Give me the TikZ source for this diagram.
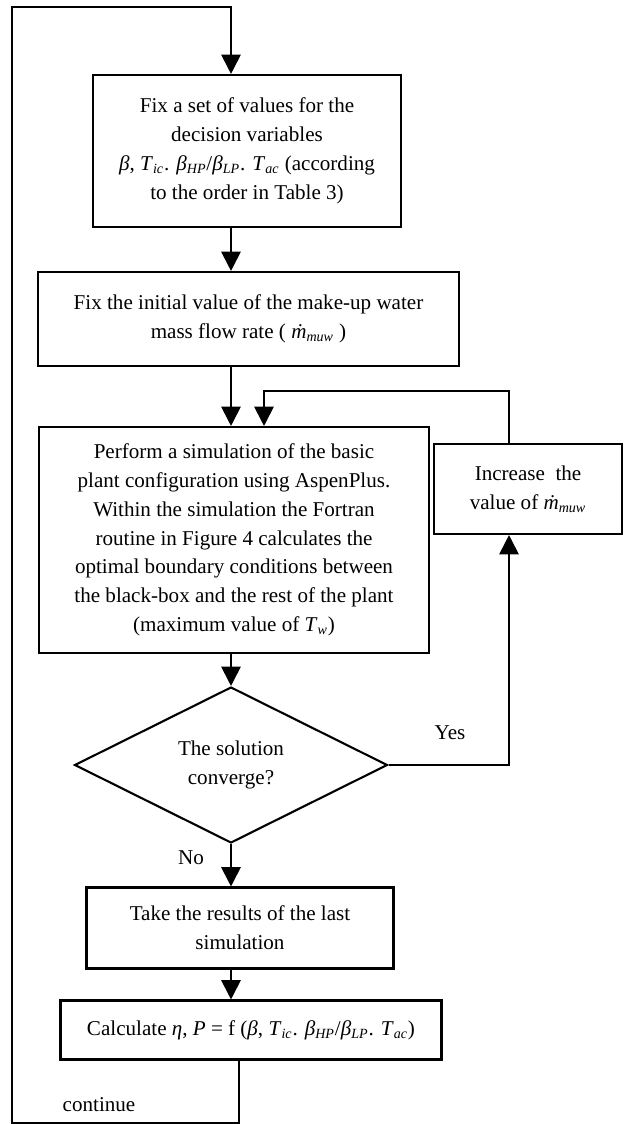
\documentclass[tikz,border=0pt]{standalone}
\usepackage{fontspec}
\setmainfont{Liberation Serif}
\usetikzlibrary{arrows.meta,shapes.geometric}
\newcommand{\dvar}[2]{\textit{#1}\textsubscript{\textit{#2}}}
\newcommand{\mflow}{\textit{\.m}\textsubscript{\textit{muw}}}
\begin{document}
\begin{tikzpicture}
[x = 0.02cm, y = -0.02cm,
 box/.style = {draw, line width=1.2pt, align=center, inner sep=2pt,
               font=\fontsize{12}{16.4}\selectfont},
 test/.style = {shape=diamond, draw, line width=1.2pt, align=center, inner sep=0pt,
               font=\fontsize{12}{16.4}\selectfont},
 txt/.style = {font=\fontsize{12}{16.4}\selectfont},
 arr/.style = {line width=1.1pt, -{Triangle[length=11pt,width=11pt]}}]
\useasboundingbox (0,0) rectangle (623,1124);
% boxes
\node[box, minimum width=6.16cm, minimum height=3.04cm] (fixvals) at (247,151)
  {Fix a set of values for the\\ decision variables\\
   \textit{β}, \dvar{T}{ic}. \dvar{β}{HP}/\dvar{β}{LP}. \dvar{T}{ac} (according\\
   to the order in Table 3)};
\node[box, minimum width=8.42cm, minimum height=1.88cm] (fixinit) at (248.5,319)
  {Fix the initial value of the make-up water\\ mass flow rate ( \mflow\ )};
\node[box, minimum width=7.8cm, minimum height=4.52cm] (sim) at (234,540)
  {Perform a simulation of the basic\\ plant configuration using AspenPlus.\\
   Within the simulation the Fortran\\ routine in Figure 4 calculates the\\
   optimal boundary conditions between\\ the black-box and the rest of the plant\\
   (maximum value of \dvar{T}{w})};
\node[box, minimum width=3.76cm, minimum height=1.8cm] (incr) at (528,489)
  {Increase~ the\\ value of \mflow};
\node[test, minimum width=6.26cm, minimum height=3.12cm] (conv) at (231,765)
  {The solution\\ converge?};
\node[box, minimum width=6.14cm, minimum height=1.62cm] (take) at (240,928)
  {Take the results of the last\\ simulation};
\node[box, minimum width=7.62cm, minimum height=1.18cm] (calc) at (251,1030)
  {Calculate \textit{η}, \textit{P} = f (\textit{β}, \dvar{T}{ic}. \dvar{β}{HP}/\dvar{β}{LP}. \dvar{T}{ac})};
% labels
\node[txt] (yes) at (450,733) {Yes};
\node[txt] (no) at (191,858) {No};
\node[txt] (cont) at (99,1105) {continue};
% corner points
\coordinate (ax) at (231,0);
\coordinate (botR) at (239,1123);
\coordinate (botL) at (12,1123);
\coordinate (topL) at (12,7);
\coordinate (topR) at (231,7);
\coordinate (backR) at (509,391);
\coordinate (backL) at (264,391);
% connectors
\draw[arr] (calc.south -| botR) -- (botR) -- (botL) -- (topL) -- (topR)
  -- (fixvals.north -| topR);
\draw[arr] (fixvals.south -| ax) -- (fixinit.north -| ax);
\draw[arr] (fixinit.south -| ax) -- (sim.north -| ax);
\draw[arr] (incr.north -| backR) -- (backR) -- (backL) -- (sim.north -| backL);
\draw[arr] (sim.south -| ax) -- (conv.north);
\draw[arr] (conv.east) -- (conv.east -| backR) -- (incr.south -| backR);
\draw[arr] (conv.south) -- (take.north -| ax);
\draw[arr] (take.south -| ax) -- (calc.north -| ax);
\end{tikzpicture}
\end{document}
